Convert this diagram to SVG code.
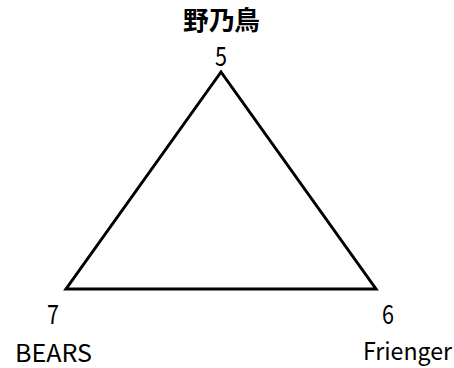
<svg xmlns="http://www.w3.org/2000/svg" width="454" height="368" viewBox="0 0 454 368">
<style>
text{font-family:"Noto Sans CJK JP","DejaVu Sans",sans-serif;fill:#000}
.lbl{font-size:27px}
.name{font-size:24px}
.title{font-size:26px;font-weight:bold}
.edge{stroke:#000;stroke-width:3;fill:none;stroke-linejoin:miter}
</style>
<rect width="454" height="368" fill="#fff"/>
<g id="connectors">
<polygon class="edge" points="221,72 66,289 376,289"/>
</g>
<g id="node-5">
<text class="title" x="183" y="30" textLength="77" lengthAdjust="spacingAndGlyphs">野乃鳥</text>
<text class="lbl" x="215" y="65.5" textLength="12" lengthAdjust="spacingAndGlyphs">5</text>
</g>
<g id="node-7">
<text class="lbl" x="47" y="324" textLength="12" lengthAdjust="spacingAndGlyphs">7</text>
<text class="name" x="15" y="362" textLength="77" lengthAdjust="spacingAndGlyphs">BEARS</text>
</g>
<g id="node-6">
<text class="lbl" x="382" y="324" textLength="12" lengthAdjust="spacingAndGlyphs">6</text>
<text class="name" x="363" y="360" textLength="89" lengthAdjust="spacingAndGlyphs">Frienger</text>
</g>
</svg>
